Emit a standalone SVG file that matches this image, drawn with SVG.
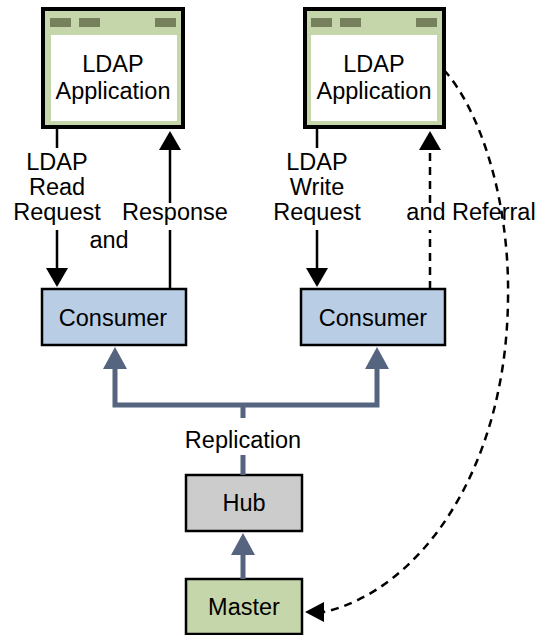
<svg xmlns="http://www.w3.org/2000/svg" width="537" height="635" viewBox="0 0 537 635">
<style>
text{font-family:"Liberation Sans",Arial,sans-serif;font-size:23.5px;fill:#000;text-anchor:middle}
.app{fill:#c5d6aa;stroke:#000;stroke-width:4}
.bar{fill:#76805d}
.win{fill:#fff}
.cons{fill:#b9cde5;stroke:#000;stroke-width:2.5}
.hub{fill:#cccccc;stroke:#000;stroke-width:2.5}
.master{fill:#c5d6aa;stroke:#000;stroke-width:2.5}
.ln{fill:none;stroke:#000;stroke-width:2.5}
.dash{fill:none;stroke:#000;stroke-width:2.5;stroke-dasharray:8 6}
.rep{fill:none;stroke:#56657f;stroke-width:5}
.ah{fill:#000}
.rh{fill:#56657f}
</style>
<g id="app-left">
<rect class="app" x="43" y="9" width="140" height="118"/>
<rect class="bar" x="50" y="18" width="21" height="9"/>
<rect class="bar" x="79" y="18" width="21" height="9"/>
<rect class="bar" x="155" y="18" width="21" height="9"/>
<rect class="win" x="51" y="35" width="126" height="86"/>
<text x="113" y="72">LDAP</text>
<text x="113" y="99">Application</text>
</g>
<g id="app-right">
<rect class="app" x="305" y="9" width="139" height="118"/>
<rect class="bar" x="311" y="18" width="21" height="9"/>
<rect class="bar" x="340" y="18" width="21" height="9"/>
<rect class="bar" x="416" y="18" width="21" height="9"/>
<rect class="win" x="311" y="35" width="126" height="86"/>
<text x="374" y="72">LDAP</text>
<text x="374" y="99">Application</text>
</g>
<g id="consumer-left">
<rect class="cons" x="42" y="289" width="144" height="56"/>
<text x="113" y="326">Consumer</text>
</g>
<g id="consumer-right">
<rect class="cons" x="301" y="289" width="144" height="56"/>
<text x="373" y="326">Consumer</text>
</g>
<g id="hub">
<rect class="hub" x="186" y="475" width="116" height="56"/>
<text x="244" y="511">Hub</text>
</g>
<g id="master">
<rect class="master" x="186" y="579" width="116" height="55"/>
<text x="244" y="615">Master</text>
</g>
<g id="connectors">
<path class="ln" d="M57,129 V148 M57,230 V268"/>
<polygon class="ah" points="46,268 68,268 57,287"/>
<path class="ln" d="M170,289 V230 M170,203 V150"/>
<polygon class="ah" points="159,150 181,150 170,131"/>
<path class="ln" d="M317,129 V148 M317,230 V268"/>
<polygon class="ah" points="306,268 328,268 317,287"/>
<path class="dash" d="M430,289 V230 M430,203 V150"/>
<polygon class="ah" points="419,150 441,150 430,131"/>
<path class="dash" d="M444,70 C480,110 510,200 508,300 C506,470 420,590 324,612"/>
<polygon class="ah" points="324,602 324,622 305,612"/>
<path class="rep" d="M115,369 V405 H377 V369 M243,405 V418 M243,455 V475"/>
<polygon class="rh" points="103,369 127,369 115,347"/>
<polygon class="rh" points="365,369 389,369 377,347"/>
<path class="rep" d="M243,579 V555"/>
<polygon class="rh" points="231,555 255,555 243,533"/>
<text x="57" y="170">LDAP</text>
<text x="57" y="195">Read</text>
<text x="57" y="220">Request</text>
<text x="109" y="248">and</text>
<text x="175" y="220">Response</text>
<text x="317" y="170">LDAP</text>
<text x="317" y="195">Write</text>
<text x="317" y="220">Request</text>
<text x="471" y="220">and Referral</text>
<text x="243" y="448">Replication</text>
</g>
</svg>
